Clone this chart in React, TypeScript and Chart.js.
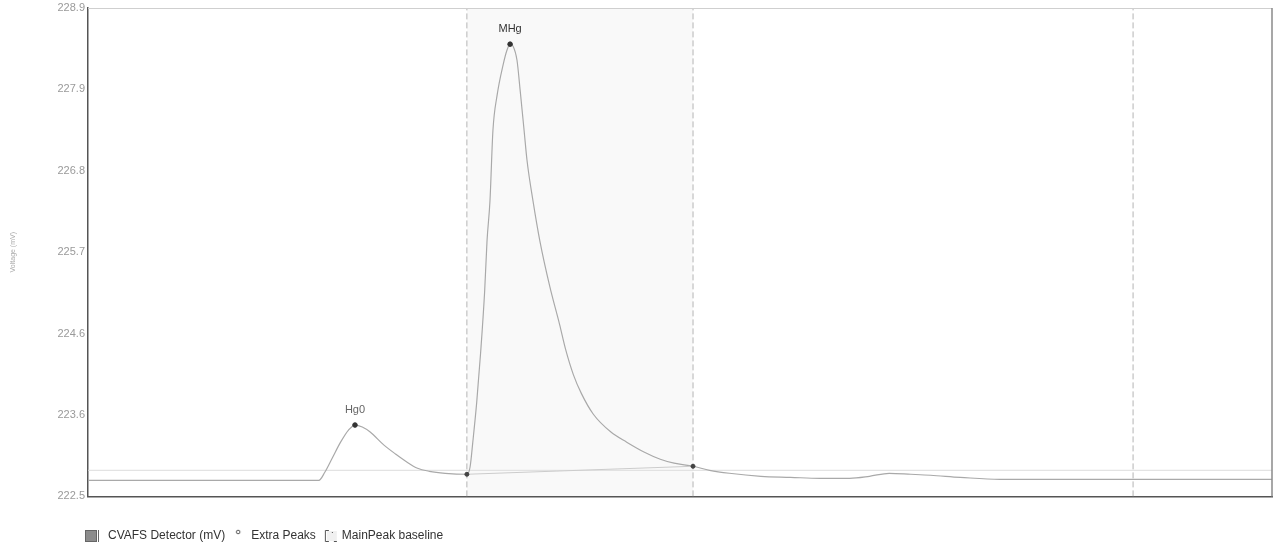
import React, { useEffect, useRef } from "react";
import { Chart, registerables } from "chart.js";

Chart.register(...registerables);

// ---- data (time in s, detector signal in mV) ----
const timeSec = [
  0, 30, 55, 80, 105, 117, 120, 124, 128, 132, 135.3, 139, 143, 150, 156, 161, 167, 173, 181, 192,
  193.6, 195, 197, 199, 201, 202.2, 203.7, 205.2, 207.3, 210.3, 212.3, 213.9, 215.4, 217.4, 219, 221,
  222.5, 225.5, 229, 234, 239, 242, 246, 250, 256, 265, 273, 282, 290, 297, 306.6, 315, 325, 341, 356,
  371, 386, 396, 406, 417, 427, 442, 462, 488, 513, 538, 564, 600,
];
const signalMv = [
  222.711, 222.711, 222.711, 222.711, 222.711, 222.711, 222.816, 223.014, 223.211, 223.369, 223.435,
  223.409, 223.343, 223.172, 223.053, 222.961, 222.869, 222.829, 222.803, 222.79,
  222.882, 223.211, 223.738, 224.396, 225.186, 225.845, 226.372, 227.294, 227.754, 228.149, 228.347,
  228.426, 228.4, 228.215, 227.82, 227.294, 226.898, 226.372, 225.845, 225.252, 224.752, 224.43,
  224.093, 223.85, 223.58, 223.343, 223.211, 223.079, 222.987, 222.935, 222.895, 222.842, 222.803,
  222.763, 222.75, 222.737, 222.737, 222.763, 222.803, 222.79, 222.777, 222.75, 222.724, 222.724,
  222.724, 222.724, 222.724, 222.724,
];
const peakTimes = [135.3, 213.9];
const peakValues = [223.435, 228.426];
const peakLabels = ["Hg0", "MHg"];
const baselineTimes = [192.0, 306.6];
const baselineValues = [222.79, 222.895];
const markerTimes = [192.0, 306.6, 529.6];
const referenceLevel = 222.842;
const yTickValues = [222.5, 223.567, 224.633, 225.7, 226.767, 227.833, 228.9];
const yTickLabels = ["222.5", "223.6", "224.6", "225.7", "226.8", "227.9", "228.9"];
const xRange = [0, 600];
const yRange = [222.5, 228.9];
const legendNames = ["CVAFS Detector (mV)", "Extra Peaks", "MainPeak baseline"];
const yTitle = "Voltage (mV)";

const FONT = '"Liberation Sans", Arial, sans-serif';

function makeIcon(kind: number): HTMLCanvasElement {
  const c = document.createElement("canvas");
  c.width = 20;
  c.height = 14;
  const g = c.getContext("2d")!;
  if (kind === 0) {
    g.fillStyle = "#8c8c8c";
    g.fillRect(0, 1, 12, 12);
    g.strokeStyle = "#666";
    g.lineWidth = 1;
    g.strokeRect(0.5, 1.5, 11, 11);
    g.beginPath();
    g.moveTo(13.5, 1);
    g.lineTo(13.5, 13);
    g.stroke();
  } else if (kind === 1) {
    g.strokeStyle = "#555";
    g.lineWidth = 1;
    g.beginPath();
    g.arc(10, 3, 1.8, 0, Math.PI * 2);
    g.stroke();
  } else {
    g.fillStyle = "#f0f0f0";
    g.fillRect(8, 2, 10, 10);
    g.strokeStyle = "#555";
    g.lineWidth = 1;
    g.beginPath();
    g.moveTo(10, 1.5);
    g.lineTo(6.5, 1.5);
    g.lineTo(6.5, 12.5);
    g.lineTo(10, 12.5);
    g.moveTo(15, 12.5);
    g.lineTo(18, 12.5);
    g.moveTo(13, 3.5);
    g.lineTo(14, 3.5);
    g.stroke();
  }
  return c;
}

const annotatePlugin = {
  id: "annotate",
  afterDatasetsDraw(chart: any) {
    const { ctx, chartArea } = chart;
    const yScale = chart.scales.y;
    ctx.save();
    // frame top / right
    ctx.lineWidth = 1;
    ctx.strokeStyle = "#cfcfcf";
    ctx.beginPath();
    ctx.moveTo(chartArea.left, chartArea.top + 0.5);
    ctx.lineTo(chartArea.right, chartArea.top + 0.5);
    ctx.stroke();
    ctx.strokeStyle = "#8a8a8a";
    ctx.lineWidth = 1.5;
    ctx.beginPath();
    ctx.moveTo(chartArea.right, chartArea.top);
    ctx.lineTo(chartArea.right, chartArea.bottom);
    ctx.stroke();
    // y tick labels
    ctx.font = "11px " + FONT;
    ctx.fillStyle = "#9a9a9a";
    ctx.textAlign = "right";
    ctx.textBaseline = "middle";
    yTickValues.forEach((v, i) => {
      ctx.fillText(yTickLabels[i], chartArea.left - 3, yScale.getPixelForValue(v));
    });
    // peak labels
    const meta = chart.getDatasetMeta(1);
    ctx.textAlign = "center";
    ctx.textBaseline = "bottom";
    meta.data.forEach((pt: any, i: number) => {
      ctx.fillStyle = i === 0 ? "#666" : "#333";
      ctx.fillText(peakLabels[i], pt.x, pt.y - 10);
    });
    // y title
    ctx.translate(13, (chartArea.top + chartArea.bottom) / 2);
    ctx.rotate(-Math.PI / 2);
    ctx.font = "7px " + FONT;
    ctx.fillStyle = "#aaa";
    ctx.textAlign = "center";
    ctx.textBaseline = "middle";
    ctx.fillText(yTitle, 0, 0);
    ctx.restore();
  },
};

export default function App() {
  const canvasRef = useRef<HTMLCanvasElement | null>(null);

  useEffect(() => {
    if (!canvasRef.current) return;
    const icons = [makeIcon(0), makeIcon(1), makeIcon(2)];
    const signal = timeSec.map((t, i) => ({ x: t, y: signalMv[i] }));
    const peaks = peakTimes.map((t, i) => ({ x: t, y: peakValues[i] }));
    const baseline = baselineTimes.map((t, i) => ({ x: t, y: baselineValues[i] }));
    const windowFill = baselineTimes.map((t) => ({ x: t, y: yRange[1] }));
    const markers = markerTimes.map((t, i) => ({
      type: "line",
      label: "marker" + i,
      data: [
        { x: t, y: yRange[0] },
        { x: t, y: yRange[1] },
      ],
      borderColor: "#b4b4b4",
      borderWidth: 1,
      borderDash: [6, 3],
      pointRadius: 0,
      order: 5,
    }));

    const chart = new Chart(canvasRef.current, {
      type: "line",
      data: {
        datasets: [
          {
            label: legendNames[0],
            data: signal,
            borderColor: "#a9a9a9",
            borderWidth: 1.2,
            pointRadius: 0,
            cubicInterpolationMode: "monotone",
            order: 2,
          },
          {
            label: legendNames[1],
            data: peaks,
            showLine: false,
            pointRadius: 2.3,
            pointBackgroundColor: "#333",
            pointBorderColor: "#333",
            order: 0,
          },
          {
            label: legendNames[2],
            data: baseline,
            borderColor: "#cccccc",
            borderWidth: 1,
            pointRadius: 2,
            pointBackgroundColor: "#444",
            pointBorderColor: "#444",
            order: 1,
          },
          {
            label: "window",
            data: windowFill,
            borderWidth: 0,
            pointRadius: 0,
            fill: "start",
            backgroundColor: "rgba(0,0,0,0.022)",
            order: 10,
          },
          {
            label: "reference",
            data: [
              { x: xRange[0], y: referenceLevel },
              { x: xRange[1], y: referenceLevel },
            ],
            borderColor: "#dcdcdc",
            borderWidth: 1,
            pointRadius: 0,
            order: 6,
          },
          ...markers,
        ] as any,
      },
      options: {
        animation: false,
        responsive: true,
        maintainAspectRatio: false,
        layout: { padding: { left: 82, right: 9, top: 8, bottom: 0 } },
        plugins: {
          tooltip: { enabled: false },
          legend: {
            position: "bottom",
            align: "start",
            labels: {
              usePointStyle: true,
              pointStyleWidth: 14,
              boxHeight: 12,
              padding: 6,
              color: "#333",
              font: { size: 12, family: FONT },
              generateLabels: () =>
                legendNames.map((name, i) => ({
                  text: name,
                  pointStyle: icons[i],
                  fillStyle: "#888",
                  strokeStyle: "#666",
                  lineWidth: 0,
                  hidden: false,
                  datasetIndex: i,
                  fontColor: "#333",
                })),
            },
          },
        },
        scales: {
          x: {
            type: "linear",
            min: xRange[0],
            max: xRange[1],
            ticks: { display: false },
            grid: { display: false, drawTicks: false },
            border: { display: true, color: "#555", width: 1.5 },
            afterFit: (s: any) => {
              s.height = 27.6;
            },
          },
          y: {
            type: "linear",
            min: yRange[0],
            max: yRange[1],
            afterBuildTicks: (s: any) => {
              s.ticks = yTickValues.map((v) => ({ value: v }));
            },
            ticks: { display: false },
            grid: { display: false, drawTicks: false },
            border: { display: true, color: "#555", width: 1.5 },
            afterFit: (s: any) => {
              s.width = 6;
            },
          },
        },
      } as any,
      plugins: [annotatePlugin],
    });
    return () => chart.destroy();
  }, []);

  return (
    <div style={{ position: "absolute", left: 0, top: 0, width: 1281, height: 552, background: "#fff" }}>
      <canvas ref={canvasRef} />
    </div>
  );
}
